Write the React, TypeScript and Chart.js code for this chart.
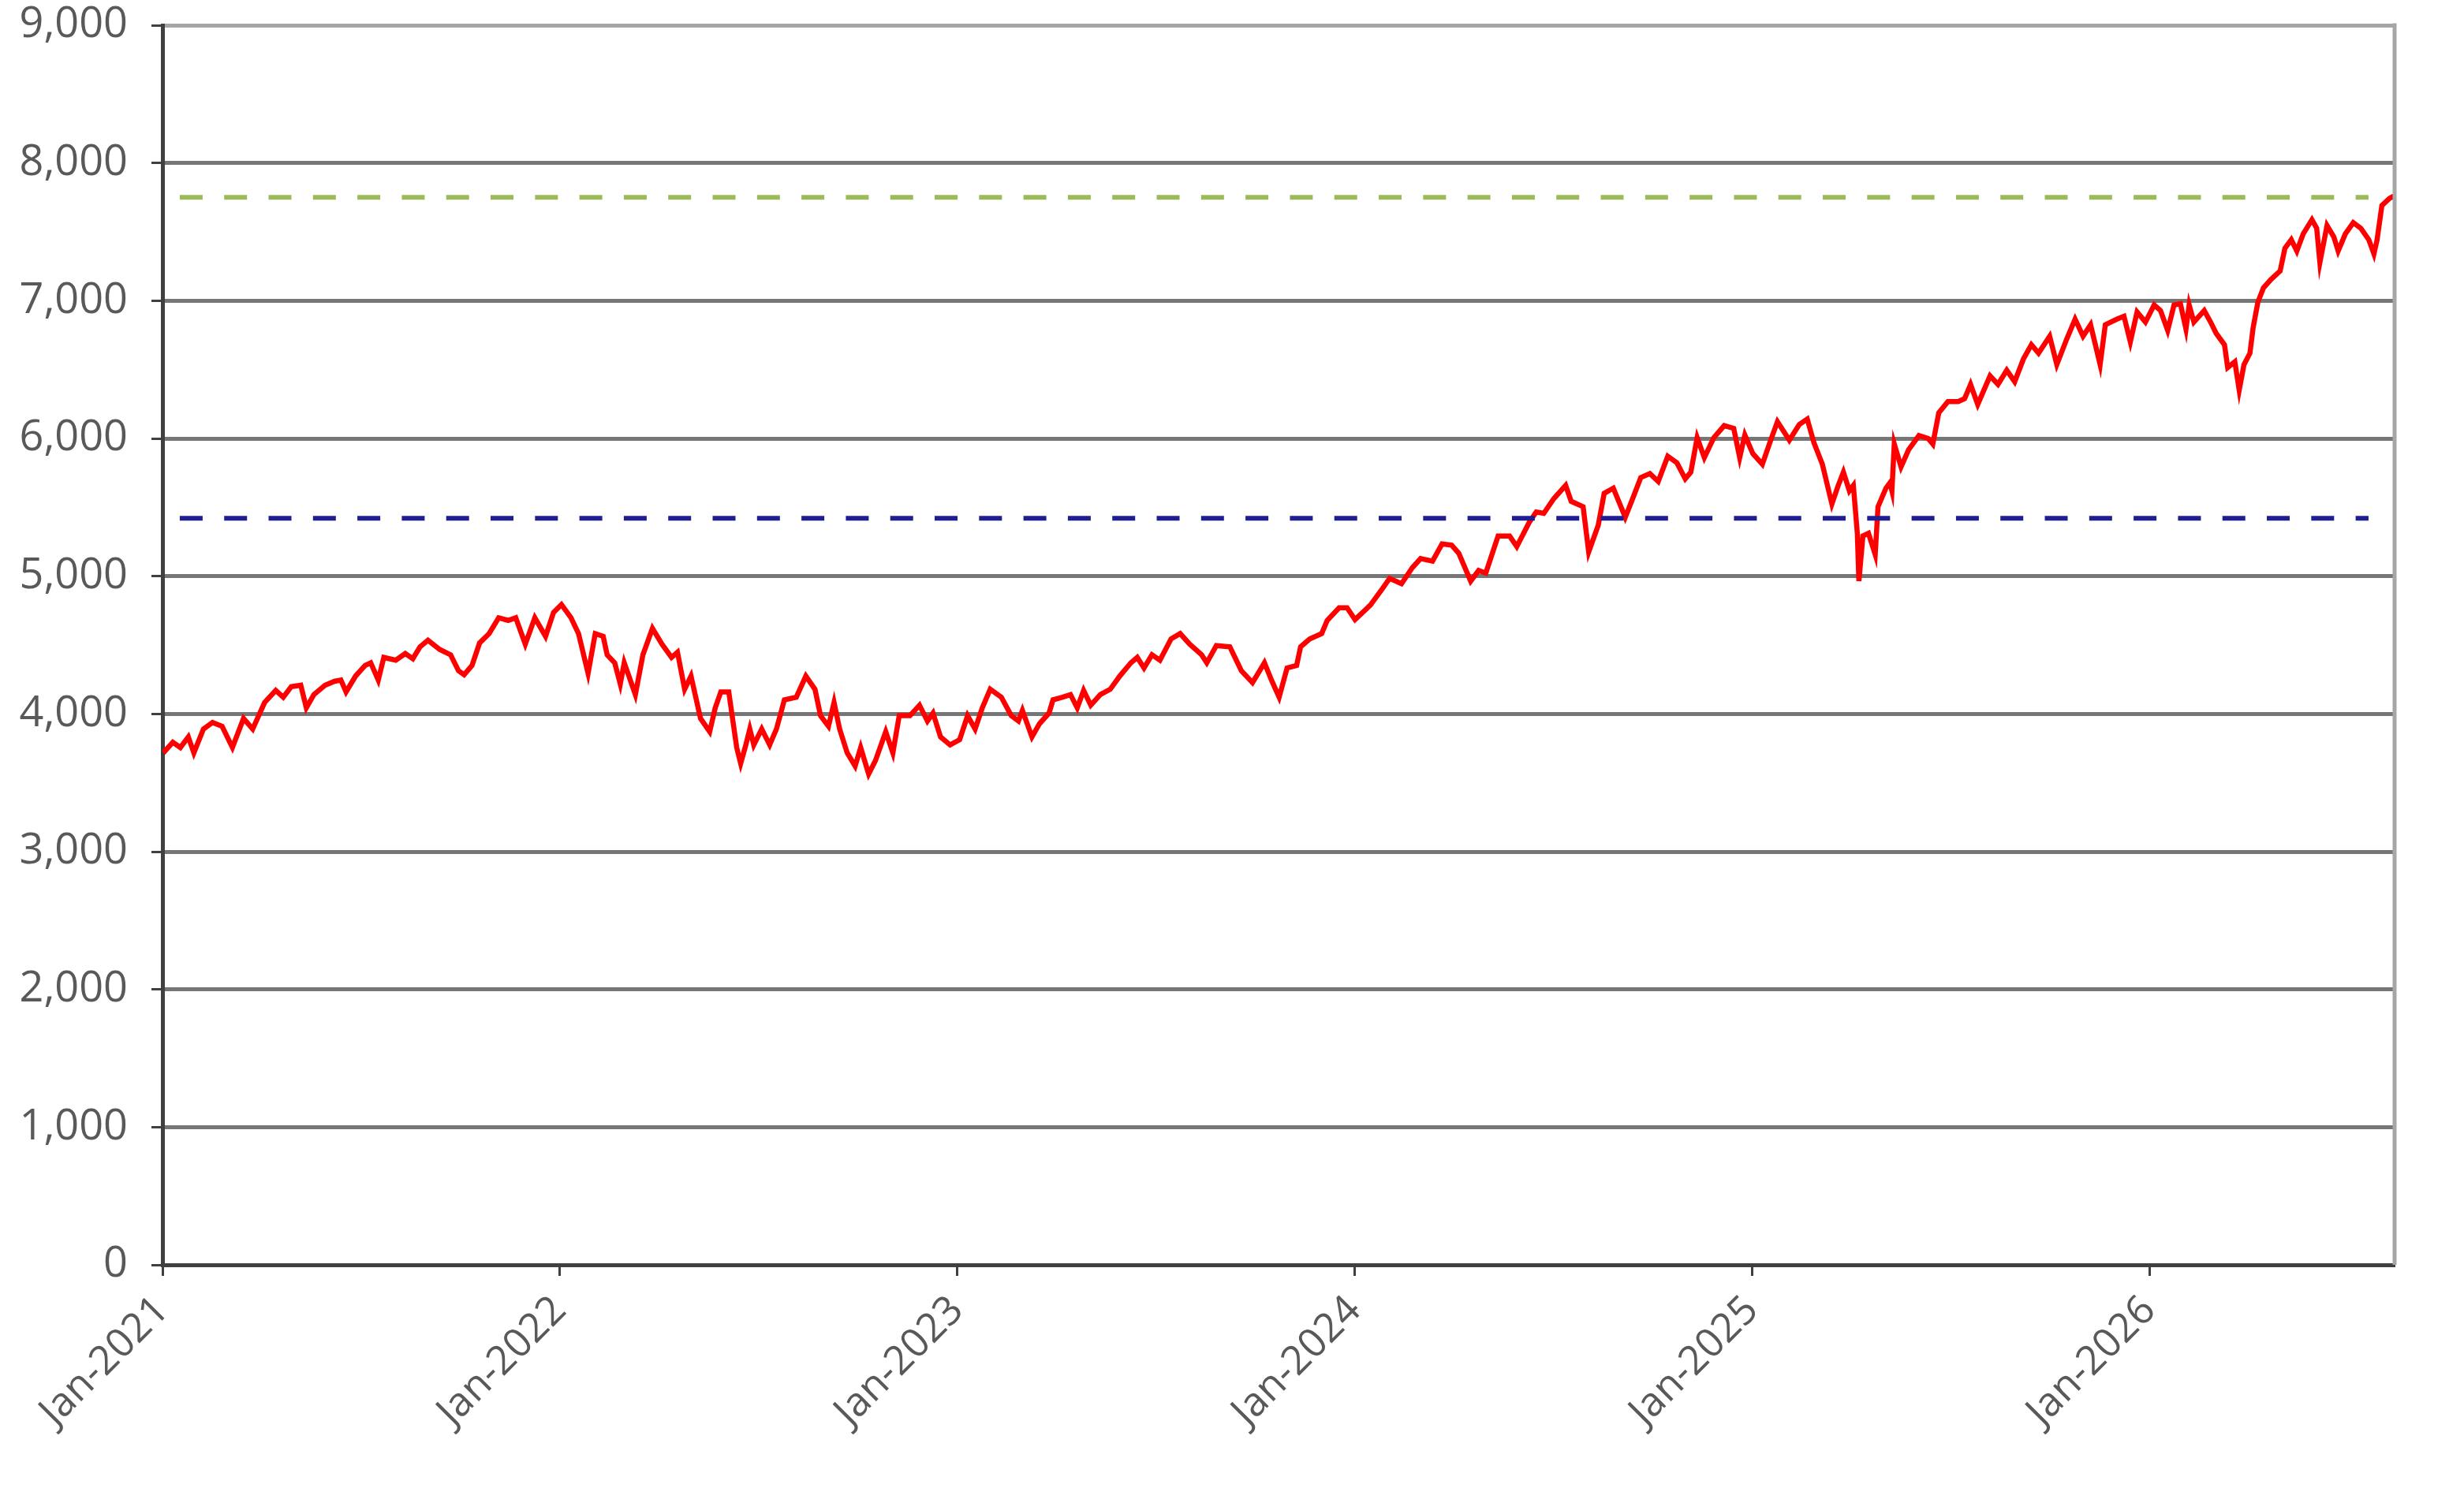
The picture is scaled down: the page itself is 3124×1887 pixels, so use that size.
import React, { useEffect, useRef } from "react";
import { Chart, registerables } from "chart.js";

Chart.register(...registerables);

// Dates as decimal years, values as index level
const dates: number[] = [
  2021.002, 2021.026, 2021.045, 2021.065, 2021.079, 2021.103, 2021.126, 2021.150, 2021.176, 2021.204,
  2021.227, 2021.257, 2021.285, 2021.304, 2021.324, 2021.348, 2021.362, 2021.381, 2021.409, 2021.433,
  2021.449, 2021.462, 2021.486, 2021.510, 2021.524, 2021.543, 2021.557, 2021.587, 2021.611, 2021.630,
  2021.648, 2021.668, 2021.698, 2021.725, 2021.745, 2021.759, 2021.779, 2021.798, 2021.822, 2021.846,
  2021.870, 2021.889, 2021.913, 2021.937, 2021.964, 2021.984, 2022.004, 2022.028, 2022.047, 2022.071,
  2022.089, 2022.109, 2022.119, 2022.138, 2022.152, 2022.162, 2022.190, 2022.209, 2022.233, 2022.257,
  2022.281, 2022.296, 2022.314, 2022.330, 2022.354, 2022.377, 2022.391, 2022.405, 2022.425, 2022.445,
  2022.455, 2022.468, 2022.478, 2022.488, 2022.508, 2022.528, 2022.545, 2022.565, 2022.595, 2022.619,
  2022.642, 2022.656, 2022.676, 2022.690, 2022.704, 2022.723, 2022.743, 2022.757, 2022.777, 2022.794,
  2022.820, 2022.838, 2022.854, 2022.881, 2022.905, 2022.925, 2022.939, 2022.958, 2022.982, 2023.006,
  2023.026, 2023.045, 2023.063, 2023.083, 2023.111, 2023.136, 2023.154, 2023.164, 2023.188, 2023.207,
  2023.231, 2023.241, 2023.265, 2023.285, 2023.302, 2023.318, 2023.336, 2023.360, 2023.385, 2023.409,
  2023.437, 2023.453, 2023.470, 2023.490, 2023.510, 2023.538, 2023.561, 2023.585, 2023.615, 2023.628,
  2023.652, 2023.686, 2023.715, 2023.743, 2023.773, 2023.792, 2023.810, 2023.830, 2023.854, 2023.864,
  2023.887, 2023.917, 2023.931, 2023.961, 2023.981, 2024.001, 2024.026, 2024.040, 2024.069, 2024.088,
  2024.118, 2024.145, 2024.166, 2024.196, 2024.220, 2024.244, 2024.262, 2024.292, 2024.312, 2024.330,
  2024.361, 2024.390, 2024.408, 2024.439, 2024.457, 2024.476, 2024.501, 2024.531, 2024.545, 2024.575,
  2024.589, 2024.613, 2024.628, 2024.651, 2024.681, 2024.702, 2024.720, 2024.743, 2024.764, 2024.788,
  2024.811, 2024.832, 2024.846, 2024.862, 2024.880, 2024.904, 2024.930, 2024.954, 2024.969, 2024.982,
  2025.002, 2025.026, 2025.047, 2025.064, 2025.094, 2025.119, 2025.139, 2025.156, 2025.177, 2025.201,
  2025.217, 2025.230, 2025.245, 2025.255, 2025.265, 2025.269, 2025.279, 2025.293, 2025.310, 2025.317,
  2025.337, 2025.347, 2025.352, 2025.358, 2025.375, 2025.394, 2025.420, 2025.443, 2025.455, 2025.470,
  2025.493, 2025.519, 2025.535, 2025.550, 2025.568, 2025.599, 2025.619, 2025.641, 2025.661, 2025.683,
  2025.703, 2025.721, 2025.749, 2025.767, 2025.792, 2025.813, 2025.833, 2025.852, 2025.876, 2025.889,
  2025.918, 2025.936, 2025.952, 2025.969, 2025.990, 2026.012, 2026.028, 2026.046, 2026.062, 2026.078,
  2026.092, 2026.100, 2026.112, 2026.138, 2026.154, 2026.168, 2026.189, 2026.197, 2026.215, 2026.226,
  2026.238, 2026.253, 2026.261, 2026.273, 2026.287, 2026.306, 2026.329, 2026.341, 2026.357, 2026.371,
  2026.387, 2026.409, 2026.421, 2026.429, 2026.447, 2026.464, 2026.475, 2026.493, 2026.513, 2026.532,
  2026.552, 2026.565, 2026.573, 2026.585, 2026.604, 2026.615,
];

const values: number[] = [
  3717, 3794, 3756, 3833, 3717, 3890, 3938, 3910, 3756, 3967,
  3890, 4083, 4170, 4121, 4198, 4208, 4044, 4140, 4208, 4237,
  4246, 4160, 4275, 4352, 4371, 4246, 4410, 4390, 4438, 4400,
  4487, 4535, 4467, 4429, 4313, 4285, 4352, 4515, 4583, 4698,
  4679, 4698, 4506, 4698, 4563, 4736, 4794, 4698, 4583, 4294,
  4583, 4563, 4429, 4371, 4217, 4371, 4140, 4429, 4621, 4506,
  4410, 4448, 4179, 4275, 3967, 3871, 4044, 4160, 4160, 3756,
  3640, 3775, 3890, 3775, 3890, 3775, 3890, 4102, 4121, 4275,
  4179, 3987, 3910, 4083, 3890, 3717, 3621, 3756, 3564, 3660,
  3871, 3717, 3987, 3987, 4063, 3948, 4006, 3833, 3775, 3813,
  3987, 3890, 4044, 4179, 4121, 3987, 3948, 4025, 3833, 3929,
  4006, 4102, 4121, 4140, 4044, 4170, 4063, 4140, 4179, 4275,
  4371, 4410, 4333, 4429, 4390, 4544, 4583, 4506, 4429, 4371,
  4496, 4487, 4313, 4227, 4371, 4237, 4121, 4333, 4352, 4487,
  4544, 4583, 4679, 4771, 4771, 4685, 4752, 4791, 4906, 4984,
  4945, 5061, 5128, 5109, 5234, 5225, 5167, 4964, 5041, 5022,
  5292, 5292, 5215, 5389, 5466, 5456, 5562, 5659, 5543, 5504,
  5176, 5369, 5601, 5639, 5427, 5581, 5716, 5745, 5688, 5871,
  5823, 5707, 5755, 6006, 5861, 6006, 6093, 6073, 5861, 6025,
  5890, 5813, 5987, 6122, 5987, 6102, 6141, 5967, 5813, 5524,
  5659, 5755, 5620, 5659, 5311, 4964, 5292, 5311, 5157, 5504,
  5639, 5678, 5620, 5959, 5794, 5918, 6021, 6000, 5959, 6186,
  6268, 6268, 6289, 6392, 6247, 6454, 6392, 6495, 6412, 6577,
  6680, 6619, 6742, 6536, 6722, 6866, 6742, 6825, 6536, 6825,
  6866, 6887, 6701, 6918, 6845, 6969, 6928, 6784, 6969, 6979,
  6794, 6969, 6845, 6928, 6845, 6763, 6680, 6515, 6557, 6351,
  6536, 6619, 6804, 6990, 7093, 7155, 7216, 7381, 7443, 7361,
  7485, 7588, 7526, 7278, 7546, 7464, 7361, 7485, 7567, 7526,
  7443, 7340, 7443, 7691, 7742, 7760,
];

const upperLevel = 7750;
const lowerLevel = 5420;
const levelStart = 2021.0435;
const levelEnd = 2026.5514;

const tickYears: number[] = [2021, 2022, 2023, 2024, 2025, 2026];
const xMin = 2021;
const xMax = 2026.617;
const yMin = 0;
const yMax = 9000;
const yStep = 1000;

const FONT = "'Open Sans', 'Noto Sans', sans-serif";

export default function App() {
  const ref = useRef<HTMLCanvasElement | null>(null);

  useEffect(() => {
    const canvas = ref.current;
    if (!canvas) return;

    const rightBorder = {
      id: "rightBorder",
      afterDatasetsDraw(chart: any) {
        const { ctx, chartArea } = chart;
        ctx.save();
        ctx.strokeStyle = "#a6a6a6";
        ctx.lineWidth = 5;
        ctx.beginPath();
        ctx.moveTo(chartArea.right, chartArea.top - 2.5);
        ctx.lineTo(chartArea.right, chartArea.bottom);
        ctx.stroke();
        ctx.restore();
      },
    };

    const chart = new Chart(canvas, {
      type: "line",
      data: {
        datasets: [
          {
            label: "Upper",
            data: [
              { x: levelStart, y: upperLevel },
              { x: levelEnd, y: upperLevel },
            ],
            borderColor: "#9bbb59",
            borderWidth: 6,
            borderDash: [29, 27.3],
            pointRadius: 0,
            fill: false,
          },
          {
            label: "Lower",
            data: [
              { x: levelStart, y: lowerLevel },
              { x: levelEnd, y: lowerLevel },
            ],
            borderColor: "#1f1f8f",
            borderWidth: 6,
            borderDash: [29, 27.3],
            pointRadius: 0,
            fill: false,
          },
          {
            label: "Index",
            data: dates.map((d, i) => ({ x: d, y: values[i] })),
            borderColor: "#ff0000",
            borderWidth: 6.5,
            pointRadius: 0,
            tension: 0,
            fill: false,
          },
        ],
      },
      options: {
        animation: false,
        responsive: false,
        devicePixelRatio: 1,
        layout: { padding: { top: 32, right: 88, left: 0, bottom: 0 } },
        plugins: {
          legend: { display: false },
          tooltip: { enabled: false },
        },
        scales: {
          x: {
            type: "linear",
            min: xMin,
            max: xMax,
            afterBuildTicks: (scale: any) => {
              scale.ticks = tickYears.map((v) => ({ value: v }));
            },
            afterFit: (scale: any) => {
              scale.height = 283;
              scale.paddingLeft = 0;
              scale.paddingRight = 0;
            },
            grid: {
              display: true,
              drawOnChartArea: false,
              drawTicks: true,
              tickLength: 14,
              tickWidth: 3,
              tickColor: "#404040",
            },
            border: { display: true, color: "#404040", width: 5 },
            ticks: {
              autoSkip: false,
              minRotation: 45,
              maxRotation: 45,
              padding: 14,
              color: "#595959",
              font: { family: FONT, size: 51 },
              callback: (v: any) => "Jan-" + v,
            },
          },
          y: {
            type: "linear",
            min: yMin,
            max: yMax,
            afterFit: (scale: any) => {
              scale.width = 206;
              scale.paddingTop = 0;
              scale.paddingBottom = 0;
            },
            grid: {
              color: (ctx: any) => (ctx.tick && ctx.tick.value === yMax ? "#a6a6a6" : "#767676"),
              lineWidth: 5,
              drawTicks: true,
              tickLength: 14,
              tickColor: "#404040",
              tickWidth: 3,
            },
            border: { display: true, color: "#404040", width: 5 },
            ticks: {
              stepSize: yStep,
              padding: 30,
              color: "#595959",
              font: { family: FONT, size: 54 },
              callback: (v: any) => Number(v).toLocaleString("en-US"),
            },
          },
        },
      },
      plugins: [rightBorder],
    });

    return () => chart.destroy();
  }, []);

  return (
    <div style={{ position: "fixed", left: 0, top: 0, width: 3124, height: 1887, background: "#ffffff" }}>
      <canvas ref={ref} width={3124} height={1887} style={{ width: 3124, height: 1887, display: "block" }} />
    </div>
  );
}
